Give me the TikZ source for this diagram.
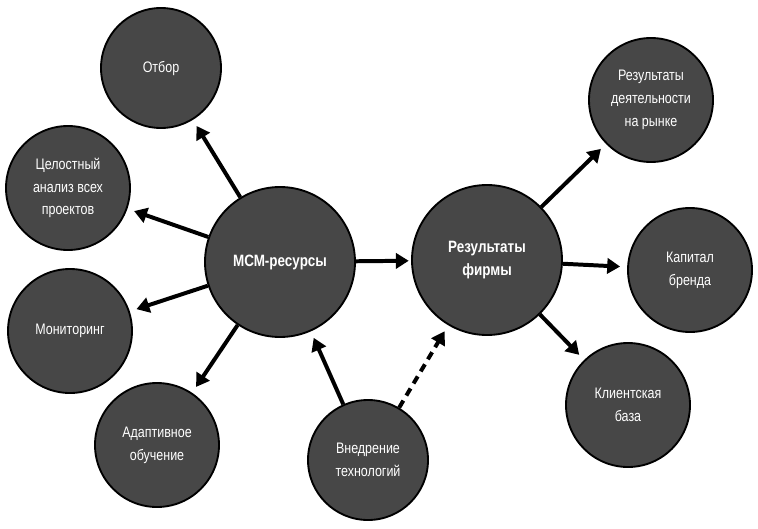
\documentclass[tikz,border=0pt]{standalone}
\usepackage{fontspec}
\setmainfont{Liberation Sans}[FakeStretch=0.82]
\usetikzlibrary{arrows.meta}
\definecolor{disc}{HTML}{474747}
\tikzstyle{ball}=[circle,draw=black,line width=1.6pt,fill=disc,text=white,align=center,inner sep=0pt,font=\fontsize{13}{19.5}\selectfont]

\begin{document}
\begin{tikzpicture}[x=0.03cm,y=-0.03cm]

\tikzstyle{small}=[ball,minimum size=3.72cm]
\tikzstyle{big}=[ball,minimum size=4.5cm,font=\fontsize{14}{20}\selectfont\bfseries]
\tikzstyle{arrow}=[-{Triangle[length=11pt,width=13pt]},line width=3.4pt,shorten >=6pt]

\useasboundingbox (0,0) rectangle (758,528);

\node (mcm) [big] at (280,262) {МСМ-ресурсы};
\node (firm) [big] at (487,260) {Результаты\\фирмы};

\node (otbor) [small,minimum size=3.6cm] at (161,68) {Отбор};
\node (analiz) [small] at (68,188) {Целостный\\анализ всех\\проектов};
\node (monit) [small] at (70,331) {Мониторинг};
\node (adapt) [small] at (157,445) {Адаптивное\\обучение};
\node (vnedr) [small,minimum size=3.6cm] at (368,460) {Внедрение\\технологий};

\node (rynok) [small] at (651,100) {Результаты\\деятельности\\на рынке};
\node (brand) [small] at (690,270) {Капитал\\бренда};
\node (baza) [small] at (628,405) {Клиентская\\база};

\draw [arrow] (mcm) -- (otbor);
\draw [arrow] (mcm) -- (analiz);
\draw [arrow] (mcm) -- (monit);
\draw [arrow] (mcm) -- (adapt);
\draw [arrow,shorten >=2pt] (mcm) -- (firm);
\draw [arrow] (vnedr) -- (mcm);
\draw [arrow,dashed,dash pattern=on 7pt off 5pt] (vnedr) -- (firm);
\draw [arrow] (firm) -- (rynok);
\draw [arrow] (firm) -- (brand);
\draw [arrow] (firm) -- (baza);

\end{tikzpicture}
\end{document}
